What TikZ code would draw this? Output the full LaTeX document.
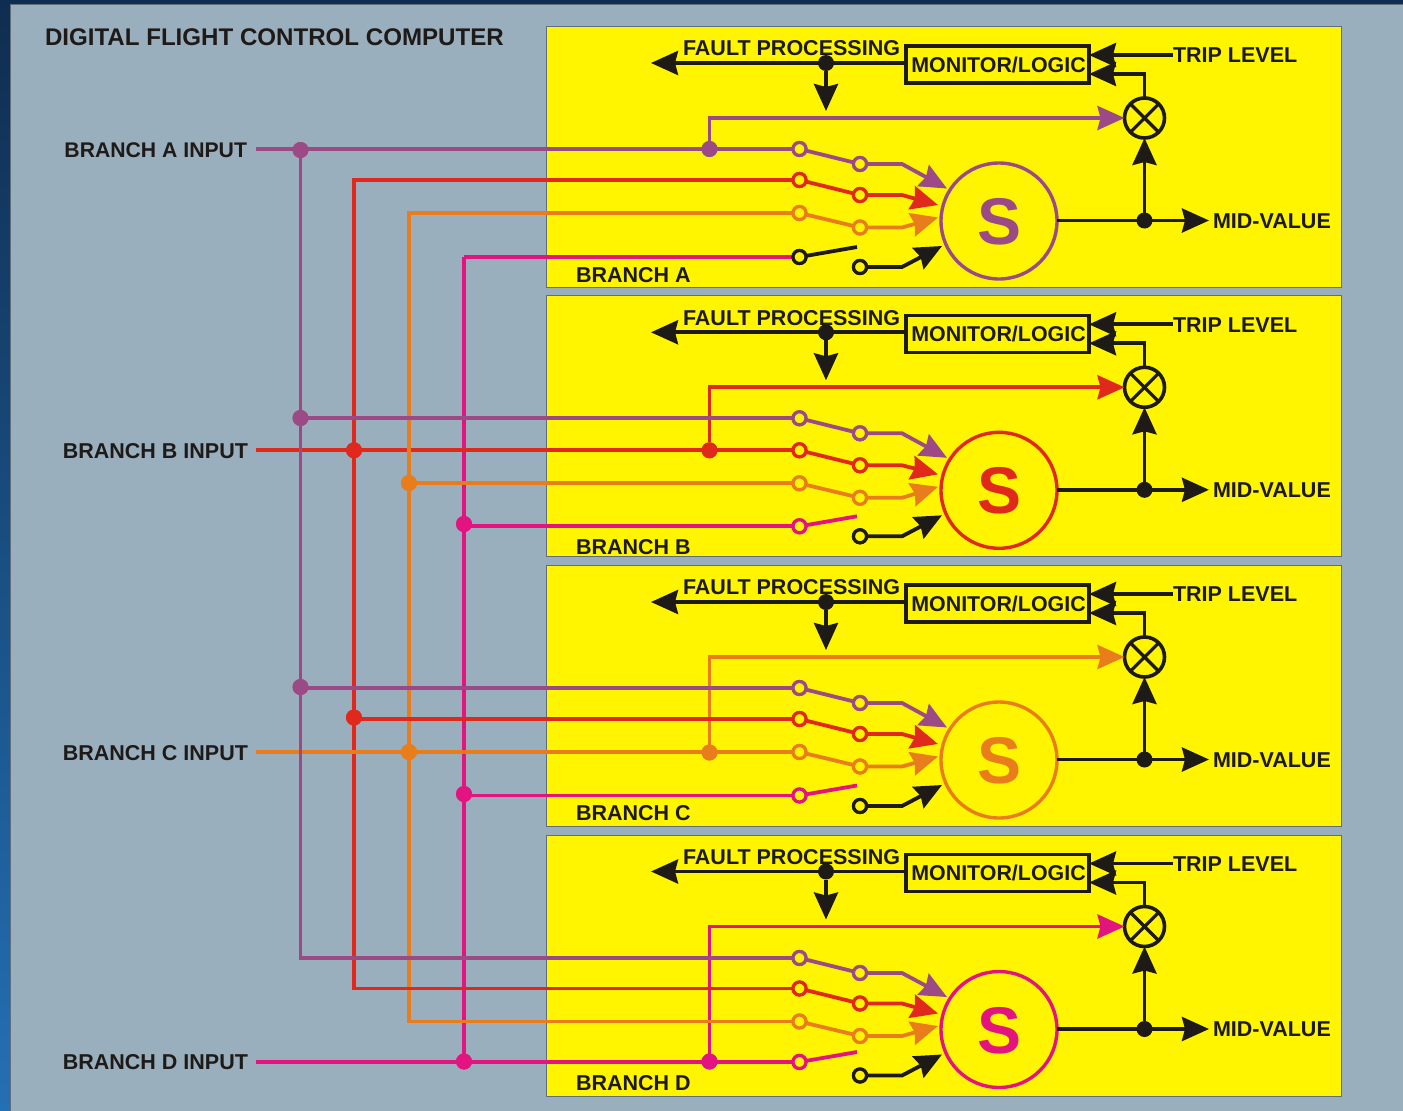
\documentclass[tikz,border=0pt]{standalone}
\usepackage{fontspec}
\setmainfont{Liberation Sans}
\usetikzlibrary{arrows.meta}
\definecolor{bgslate}{HTML}{9AAFBE}
\definecolor{framegray}{HTML}{5F6E78}
\definecolor{stripdark}{HTML}{0F2D50}
\definecolor{stripblue}{HTML}{2470B4}
\definecolor{ylw}{HTML}{FFF500}
\definecolor{ink}{HTML}{1E1A18}
\definecolor{cpurple}{HTML}{9B4A85}
\definecolor{cred}{HTML}{E0281C}
\definecolor{corange}{HTML}{EA7D1B}
\definecolor{cpink}{HTML}{E3147F}
\tikzset{
  lbl/.style={font=\bfseries\fontsize{21.5}{24}\selectfont,text=ink,inner sep=0,outer sep=0,text height=15.4,text depth=0},
  wire/.style={line width=3.8,line cap=butt,line join=miter},
  headed/.style={-{Stealth[length=27,width=24,inset=3]}},
  soliddot/.style={circle,inner sep=0,outer sep=0,minimum size=16,fill=#1},
  swnode/.style={circle,inner sep=0,outer sep=0,minimum size=13,line width=3.2,draw=#1,fill=ylw},
  panel/.style={draw=framegray,line width=1,fill=ylw},
}
% #1 name, #2 y shift, #3 colour, #4..#7 rows of the switches, #8 colour of the fourth arm, #9 row of the name label
\newcommand{\branchpanel}[9]{%
\begin{scope}[shift={(0,#2)}]
  \draw[panel] (546,26.6) rectangle (1341,287.6);
  \node[lbl,anchor=west] (head#1) at (683,48) {FAULT PROCESSING};
  \node[lbl,anchor=west] (name#1) at (576,#9) {BRANCH #1};
  \node[draw=ink,line width=3.6,minimum width=183,minimum height=37,inner sep=0,outer sep=0,font=\bfseries\fontsize{21.4}{24}\selectfont,text=ink,text height=15.2,text depth=0] (mon#1) at (997.5,64.5) {\hspace*{2pt}MONITOR/LOGIC};
  \node[lbl,anchor=west] (trip#1) at (1173,55) {TRIP LEVEL};
  \node[lbl,anchor=west,inner xsep=4] (mid#1) at (1209,220.5) {MID-VALUE};
  \node[circle,draw=ink,line width=3.6,fill=ylw,minimum size=40,inner sep=0,outer sep=0] (xor#1) at (1144.5,118) {};
  \draw[ink,line width=3.2] (xor#1.45) -- (xor#1.225) (xor#1.135) -- (xor#1.-45);
  \node[circle,draw=#3,line width=3.4,fill=ylw,minimum size=116,inner sep=0,outer sep=0,font=\bfseries\fontsize{66}{70}\selectfont,text=#3,text height=47.3,text depth=0] (S#1) at (999,221) {S};
  \coordinate (faultout#1) at (651,63);
  \coordinate (faultdn#1) at (826,111);
  \node[soliddot=ink] (fdot#1) at (826,63) {};
  \node[soliddot=ink] (odot#1) at (1144.5,220.5) {};
  \draw[wire,ink,headed] (mon#1.west |- fdot#1) -- (faultout#1);
  \draw[wire,ink,headed] (fdot#1) -- (faultdn#1);
  \draw[wire,ink,headed] (trip#1.west) -- (mon#1.east |- trip#1.west);
  \coordinate (monin#1) at (1089,74);
  \draw[wire,ink,headed] (xor#1.north) |- (monin#1);
  \draw[wire,ink,headed] (odot#1) -- (xor#1.south);
  \draw[wire,ink,headed] (S#1.east |- mid#1.west) -- (mid#1.west);
  \node[swnode=cpurple] (p#1) at (799.5,#4) {};
  \node[swnode=cred] (r#1) at (799.5,#5) {};
  \node[swnode=corange] (o#1) at (799.5,#6) {};
  \node[swnode=#8] (k#1) at (799.5,#7) {};
  \node[swnode=cpurple] (pp#1) at (860,#4+15) {};
  \node[swnode=cred] (rr#1) at (860,#5+15) {};
  \node[swnode=corange] (oo#1) at (860,#6+14.5) {};
  \node[swnode=ink] (kk#1) at (860,267) {};
  \coordinate (parm#1) at (902,#4+15);
  \coordinate (rarm#1) at (902,#5+15);
  \coordinate (oarm#1) at (902,#6+14.5);
  \coordinate (karm#1) at (902,267);
  \coordinate (kend#1) at (857,#7-10);
  \coordinate (ptip#1) at (947,188.5);
  \coordinate (rtip#1) at (938,205);
  \coordinate (otip#1) at (938,217.5);
  \coordinate (ktip#1) at (942,246);
  \draw[wire,cpurple] (p#1) -- (pp#1);
  \draw[wire,cred] (r#1) -- (rr#1);
  \draw[wire,corange] (o#1) -- (oo#1);
  \draw[wire,#8] (k#1) -- (kend#1);
  \draw[wire,cpurple,headed] (pp#1) -- (parm#1) -- (ptip#1);
  \draw[wire,cred,headed] (rr#1) -- (rarm#1) -- (rtip#1);
  \draw[wire,corange,headed] (oo#1) -- (oarm#1) -- (otip#1);
  \draw[wire,ink,headed] (kk#1) -- (karm#1) -- (ktip#1);
  \node[swnode=cpurple] at (pp#1) {};
  \node[swnode=cred] at (rr#1) {};
  \node[swnode=corange] at (oo#1) {};
  \node[swnode=ink] at (kk#1) {};
\end{scope}}
\begin{document}
\begin{tikzpicture}[x=1pt,y=-1pt]
\useasboundingbox (0,0) rectangle (1403,1111);
\fill[bgslate] (0,0) rectangle (1403,1111);
\shade[top color=stripdark,bottom color=stripblue] (0,0) rectangle (10,1111);
\fill[stripdark] (0,0) rectangle (1403,4);
\draw[framegray,line width=1.2] (10.2,1111) -- (10.2,4.6) -- (1403,4.6);
\node[lbl,anchor=west,font=\bfseries\fontsize{24.1}{28}\selectfont,text height=17.2] (title) at (45,37) {DIGITAL FLIGHT CONTROL COMPUTER};
\branchpanel{A}{0}{cpurple}{149}{180}{213}{257}{ink}{274.5}
\branchpanel{B}{269.3}{cred}{149}{181}{214}{257}{cpink}{277}
\branchpanel{C}{539}{corange}{149}{180}{213}{256.5}{cpink}{273.5}
\branchpanel{D}{808.5}{cpink}{149.5}{180}{213}{253.5}{cpink}{274.5}
\node[lbl,anchor=east,inner xsep=9,font=\bfseries\fontsize{21.2}{24}\selectfont] (inA) at (256,149.5) {BRANCH A INPUT};
\node[lbl,anchor=east,inner xsep=8] (inB) at (256,450.3) {BRANCH B INPUT};
\node[lbl,anchor=east,inner xsep=8] (inC) at (256,752.5) {BRANCH C INPUT};
\node[lbl,anchor=east,inner xsep=8] (inD) at (256,1062) {BRANCH D INPUT};
% bus junctions
\node[soliddot=cpurple] (jp1) at (300.5,150) {};
\node[soliddot=cpurple] (jp2) at (300.5,418) {};
\node[soliddot=cpurple] (jp3) at (300.5,687) {};
\coordinate (jp4) at (300.5,958);
\coordinate (jr1) at (354,180);
\node[soliddot=cred] (jr2) at (354,450.3) {};
\node[soliddot=cred] (jr3) at (354,717.5) {};
\coordinate (jr4) at (354,988.5);
\coordinate (jo1) at (409,213);
\node[soliddot=corange] (jo2) at (409,483) {};
\node[soliddot=corange] (jo3) at (409,752) {};
\coordinate (jo4) at (409,1021.5);
\coordinate (jk1) at (464,257);
\node[soliddot=cpink] (jk2) at (464,524) {};
\node[soliddot=cpink] (jk3) at (464,794) {};
\node[soliddot=cpink] (jk4) at (464,1061.5) {};
\coordinate (xovA) at (409,440);
\coordinate (xovB) at (409,460);
% taps to the comparators
\node[soliddot=cpurple] (tA) at (709.5,149) {};
\node[soliddot=cred] (tB) at (709.5,450.3) {};
\node[soliddot=corange] (tC) at (709.5,752.5) {};
\node[soliddot=cpink] (tD) at (709.5,1061.5) {};
% vertical buses under the feeds
\draw[wire,cpink] (jk1 |- kA) -- (jk4);
\draw[wire,cred] (rA) -- (jr1 |- rA) -- (jr4 |- rD) -- (rD);
\draw[wire,corange] (oA) -- (jo1 |- oA) -- (jo4 |- oD) -- (oD);
% horizontal feeds
\draw[wire,cpurple,headed] (tA) |- (xorA.west);
\draw[wire,cred,headed] (tB) |- (xorB.west);
\draw[wire,corange,headed] (tC) |- (xorC.west);
\draw[wire,cpink,headed] (tD) |- (xorD.west);
\draw[wire,cred] (jr1 |- rA) -- (rA);
\draw[wire,cred] (jr4 |- rD) -- (rD);
\draw[wire,corange] (jo1 |- oA) -- (oA);
\draw[wire,corange] (jo4 |- oD) -- (oD);
\draw[wire,cred] (inB) -- (rB);
\draw[wire,cred] (jr3 |- rC) -- (rC);
\draw[wire,corange] (jo2 |- oB) -- (oB);
\draw[wire,corange] (inC.east |- oC) -- (oC);
\draw[wire,cpink] (jk1 |- kA) -- (kA);
\draw[wire,cpink] (jk2 |- kB) -- (kB);
\draw[wire,cpink] (jk3 |- kC) -- (kC);
\draw[wire,cpink] (inD.east |- kD) -- (kD);
\draw[wire,corange] (xovA) -- (xovB);
\draw[wire,cpurple] (jp1) -- (jp4 |- pD) -- (pD);
\draw[wire,cpurple] (inA.east |- pA) -- (pA);
\draw[wire,cpurple] (jp2 |- pB) -- (pB);
\draw[wire,cpurple] (jp3 |- pC) -- (pC);
\foreach \n/\c in {jp1/cpurple,jp2/cpurple,jp3/cpurple,jr2/cred,jr3/cred,jo2/corange,jo3/corange,jk2/cpink,jk3/cpink,jk4/cpink,tA/cpurple,tB/cred,tC/corange,tD/cpink}{\node[soliddot=\c] at (\n) {};}
\foreach \n/\c in {pA/cpurple,rA/cred,oA/corange,kA/ink,pB/cpurple,rB/cred,oB/corange,kB/cpink,pC/cpurple,rC/cred,oC/corange,kC/cpink,pD/cpurple,rD/cred,oD/corange,kD/cpink}{\node[swnode=\c] at (\n) {};}
\end{tikzpicture}
\end{document}
